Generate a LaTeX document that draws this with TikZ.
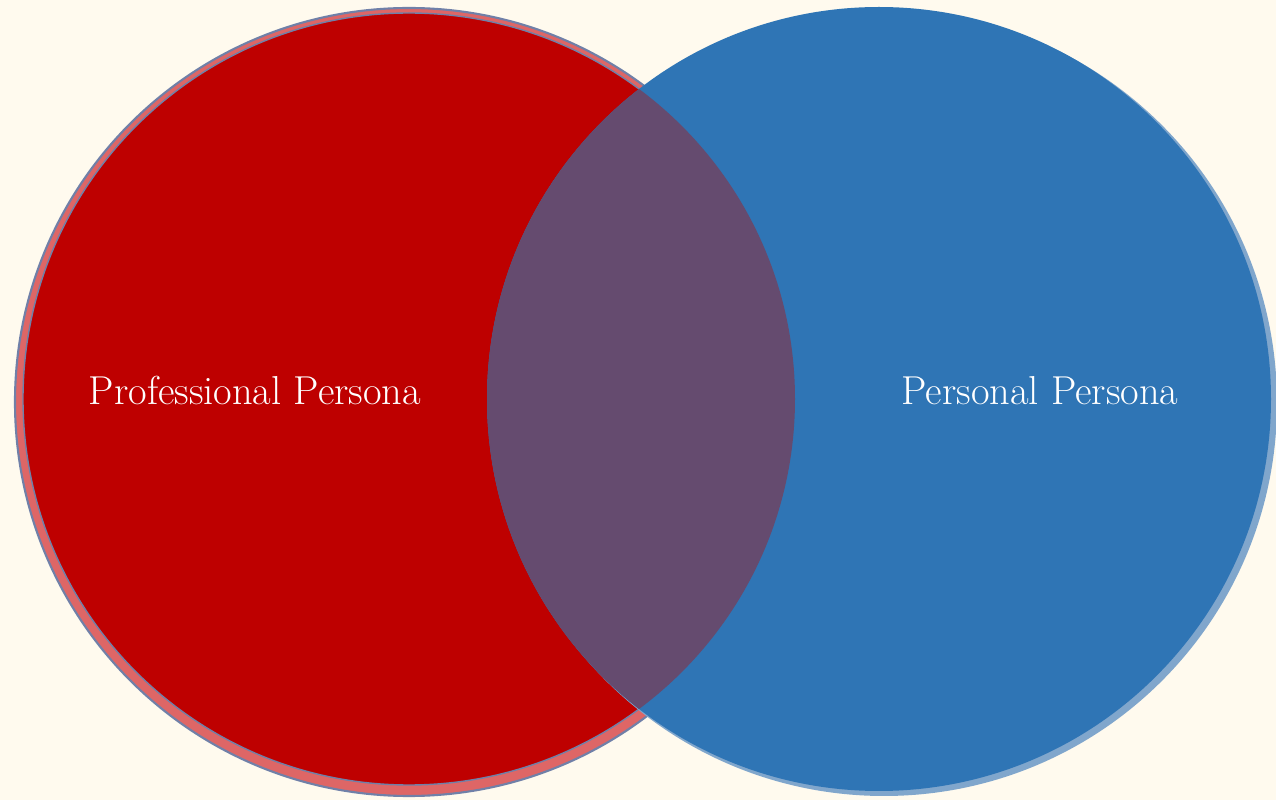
\documentclass[tikz,border=0pt]{standalone}
\usepackage{tikz}
\usetikzlibrary{positioning, calc}

\definecolor{cream}{RGB}{255,250,238}
\definecolor{proRed}{RGB}{190,0,0}
\definecolor{proRing}{RGB}{222,102,102}
\definecolor{perBlue}{RGB}{47,117,181}
\definecolor{perRing}{RGB}{128,166,204}
\definecolor{edgeGray}{RGB}{112,128,168}
\definecolor{overlap}{RGB}{101,75,111}

\begin{document}
\begin{tikzpicture}[
    x=0.02cm, y=-0.02cm,
    every node/.style={font=\fontsize{23}{28}\selectfont}, % 统一字体
    ring/.style={draw=edgeGray, line width=1.2pt}, % 外圈
    disc/.style={draw=edgeGray, line width=0.8pt}, % 内圆
    label/.style={text=white, anchor=base}
]
    % 背景
    \fill[cream] (0,0) rectangle (1276,800);
    \useasboundingbox (0,0) rectangle (1276,800);

    % 圆心
    \coordinate (proC) at (409,399);
    \coordinate (proO) at (409,402);
    \coordinate (perC) at (879,399);
    \coordinate (perO) at (884,403);

    % 1. 左圆(红色,双层)
    \fill[proRing, ring] (proO) circle (394);
    \fill[proRed, disc] (proC) circle (386);

    % 2. 右圆(蓝色,浅色外圈)
    \fill[perRing] (perO) circle (393);
    \fill[perBlue] (perC) circle (392);

    % 3. 交集区域
    \begin{scope}
        \clip (proC) circle (386);
        \fill[overlap] (perC) circle (392);
    \end{scope}

    % 4. 标注
    \node[label] (pro) at (255,405) {Professional Persona};
    \node[label] (per) at (1040,405) {Personal Persona};
\end{tikzpicture}
\end{document}
